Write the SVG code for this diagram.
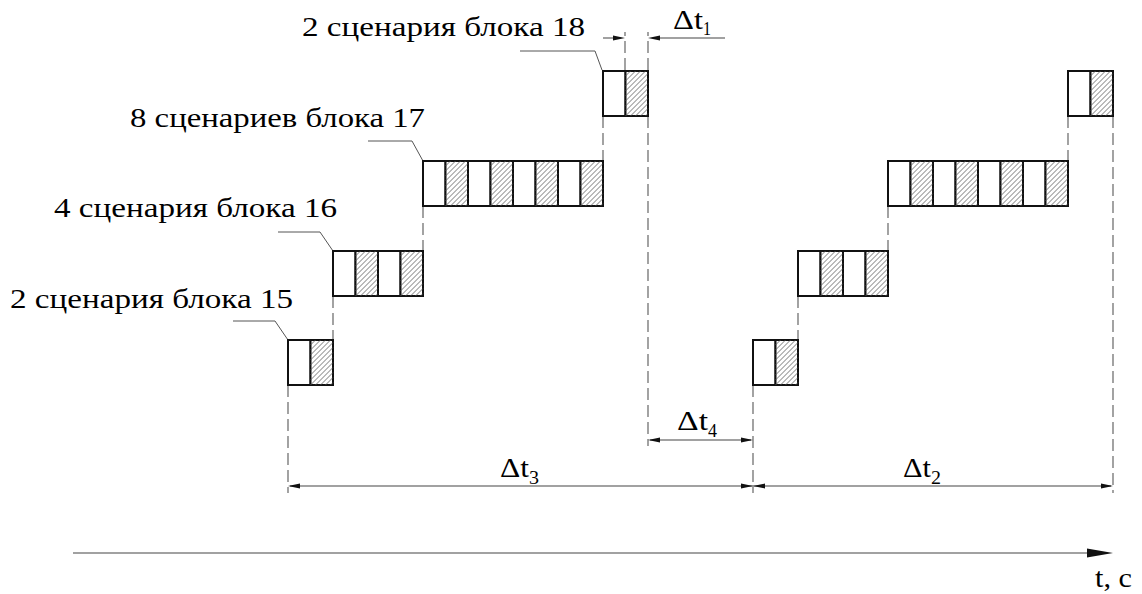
<svg xmlns="http://www.w3.org/2000/svg" width="1142" height="594" viewBox="0 0 1142 594">
<style>
.box{fill:#fff;stroke:#111;stroke-width:2}
.h{stroke:#555;stroke-width:0.8;fill:none}
.dash{stroke:#666;stroke-width:1.2;stroke-dasharray:12,5;fill:none}
.dim{stroke:#444;stroke-width:1.2;fill:none}
.lead{stroke:#555;stroke-width:1;fill:none}
.ah{fill:#111}
</style>
<rect width="1142" height="594" fill="#fff"/>
<text x="302" y="36" font-family="Liberation Serif" font-size="27" textLength="283" lengthAdjust="spacingAndGlyphs">2 сценария блока 18</text>
<text x="130" y="127" font-family="Liberation Serif" font-size="27" textLength="295" lengthAdjust="spacingAndGlyphs">8 сценариев блока 17</text>
<text x="54" y="217" font-family="Liberation Serif" font-size="27" textLength="283" lengthAdjust="spacingAndGlyphs">4 сценария блока 16</text>
<text x="10" y="308" font-family="Liberation Serif" font-size="27" textLength="283" lengthAdjust="spacingAndGlyphs">2 сценария блока 15</text>
<text x="673" y="29" font-family="Liberation Serif" font-size="27" textLength="30" lengthAdjust="spacingAndGlyphs">Δt</text>
<text x="703" y="35" font-family="Liberation Serif" font-size="19" textLength="8" lengthAdjust="spacingAndGlyphs">1</text>
<text x="677" y="430" font-family="Liberation Serif" font-size="27" textLength="31" lengthAdjust="spacingAndGlyphs">Δt</text>
<text x="708" y="437" font-family="Liberation Serif" font-size="19" textLength="9" lengthAdjust="spacingAndGlyphs">4</text>
<text x="500" y="477" font-family="Liberation Serif" font-size="27" textLength="29" lengthAdjust="spacingAndGlyphs">Δt</text>
<text x="529" y="484" font-family="Liberation Serif" font-size="19" textLength="10" lengthAdjust="spacingAndGlyphs">3</text>
<text x="903" y="477" font-family="Liberation Serif" font-size="27" textLength="28" lengthAdjust="spacingAndGlyphs">Δt</text>
<text x="931" y="484" font-family="Liberation Serif" font-size="19" textLength="10" lengthAdjust="spacingAndGlyphs">2</text>
<text x="1095" y="587" font-family="Liberation Serif" font-size="27" textLength="37" lengthAdjust="spacingAndGlyphs">t, c</text>

<g id="connectors">
<path class="dash" d="M288,385 V493 M333,296 V340 M423,206 V251 M603,116 V161 M648,116 V446 M625,70 V32 M648,70 V32"/>
<path class="dash" d="M753,385 V493 M798,296 V340 M888,206 V251 M1068,116 V161 M1113,116 V493"/>
<path class="lead" d="M520,51 H595 L602,70"/>
<path class="lead" d="M368,141 H412 L423,161"/>
<path class="lead" d="M278,232 H320 L333,251"/>
<path class="lead" d="M233,321 H275 L288,340"/>
<path class="dim" d="M603,38 H620 M653,38 H725"/>
<polygon class="ah" points="613,35.6 625,38 613,40.4"/>
<polygon class="ah" points="660,35.6 648,38 660,40.4"/>
<path class="dim" d="M650,440 H751"/>
<polygon class="ah" points="660,437.6 648,440 660,442.4"/>
<polygon class="ah" points="741,437.6 753,440 741,442.4"/>
<path class="dim" d="M290,486 H1111"/>
<polygon class="ah" points="300,483.6 288,486 300,488.4"/>
<polygon class="ah" points="741,483.6 753,486 741,488.4"/>
<polygon class="ah" points="765,483.6 753,486 765,488.4"/>
<polygon class="ah" points="1101,483.6 1113,486 1101,488.4"/>
<path class="dim" d="M73,553 H1092" stroke="#333"/>
<polygon class="ah" points="1087,548.5 1113,553 1087,557.5"/>
</g>

<g id="block15a">
<rect class="box" x="288" y="340" width="22.5" height="45"/>
<rect class="box" x="310.5" y="340" width="22.5" height="45"/>
<path class="h" transform="translate(310.5,340)" d="M0,5L5,0M0,10L10,0M0,15L15,0M0,20L20,0M0,25L22.5,2.5M0,30L22.5,7.5M0,35L22.5,12.5M0,40L22.5,17.5M0,45L22.5,22.5M5,45L22.5,27.5M10,45L22.5,32.5M15,45L22.5,37.5M20,45L22.5,42.5"/>
</g>
<g id="block16a">
<rect class="box" x="333" y="251" width="22.5" height="45"/>
<rect class="box" x="355.5" y="251" width="22.5" height="45"/>
<rect class="box" x="378" y="251" width="22.5" height="45"/>
<rect class="box" x="400.5" y="251" width="22.5" height="45"/>
<path class="h" transform="translate(355.5,251)" d="M0,5L5,0M0,10L10,0M0,15L15,0M0,20L20,0M0,25L22.5,2.5M0,30L22.5,7.5M0,35L22.5,12.5M0,40L22.5,17.5M0,45L22.5,22.5M5,45L22.5,27.5M10,45L22.5,32.5M15,45L22.5,37.5M20,45L22.5,42.5"/>
<path class="h" transform="translate(400.5,251)" d="M0,5L5,0M0,10L10,0M0,15L15,0M0,20L20,0M0,25L22.5,2.5M0,30L22.5,7.5M0,35L22.5,12.5M0,40L22.5,17.5M0,45L22.5,22.5M5,45L22.5,27.5M10,45L22.5,32.5M15,45L22.5,37.5M20,45L22.5,42.5"/>
</g>
<g id="block17a">
<rect class="box" x="423" y="161" width="22.5" height="45"/>
<rect class="box" x="445.5" y="161" width="22.5" height="45"/>
<rect class="box" x="468" y="161" width="22.5" height="45"/>
<rect class="box" x="490.5" y="161" width="22.5" height="45"/>
<rect class="box" x="513" y="161" width="22.5" height="45"/>
<rect class="box" x="535.5" y="161" width="22.5" height="45"/>
<rect class="box" x="558" y="161" width="22.5" height="45"/>
<rect class="box" x="580.5" y="161" width="22.5" height="45"/>
<path class="h" transform="translate(445.5,161)" d="M0,5L5,0M0,10L10,0M0,15L15,0M0,20L20,0M0,25L22.5,2.5M0,30L22.5,7.5M0,35L22.5,12.5M0,40L22.5,17.5M0,45L22.5,22.5M5,45L22.5,27.5M10,45L22.5,32.5M15,45L22.5,37.5M20,45L22.5,42.5"/>
<path class="h" transform="translate(490.5,161)" d="M0,5L5,0M0,10L10,0M0,15L15,0M0,20L20,0M0,25L22.5,2.5M0,30L22.5,7.5M0,35L22.5,12.5M0,40L22.5,17.5M0,45L22.5,22.5M5,45L22.5,27.5M10,45L22.5,32.5M15,45L22.5,37.5M20,45L22.5,42.5"/>
<path class="h" transform="translate(535.5,161)" d="M0,5L5,0M0,10L10,0M0,15L15,0M0,20L20,0M0,25L22.5,2.5M0,30L22.5,7.5M0,35L22.5,12.5M0,40L22.5,17.5M0,45L22.5,22.5M5,45L22.5,27.5M10,45L22.5,32.5M15,45L22.5,37.5M20,45L22.5,42.5"/>
<path class="h" transform="translate(580.5,161)" d="M0,5L5,0M0,10L10,0M0,15L15,0M0,20L20,0M0,25L22.5,2.5M0,30L22.5,7.5M0,35L22.5,12.5M0,40L22.5,17.5M0,45L22.5,22.5M5,45L22.5,27.5M10,45L22.5,32.5M15,45L22.5,37.5M20,45L22.5,42.5"/>
</g>
<g id="block18a">
<rect class="box" x="603" y="71" width="22.5" height="45"/>
<rect class="box" x="625.5" y="71" width="22.5" height="45"/>
<path class="h" transform="translate(625.5,71)" d="M0,5L5,0M0,10L10,0M0,15L15,0M0,20L20,0M0,25L22.5,2.5M0,30L22.5,7.5M0,35L22.5,12.5M0,40L22.5,17.5M0,45L22.5,22.5M5,45L22.5,27.5M10,45L22.5,32.5M15,45L22.5,37.5M20,45L22.5,42.5"/>
</g>

<g id="block15b">
<rect class="box" x="753" y="340" width="22.5" height="45"/>
<rect class="box" x="775.5" y="340" width="22.5" height="45"/>
<path class="h" transform="translate(775.5,340)" d="M0,5L5,0M0,10L10,0M0,15L15,0M0,20L20,0M0,25L22.5,2.5M0,30L22.5,7.5M0,35L22.5,12.5M0,40L22.5,17.5M0,45L22.5,22.5M5,45L22.5,27.5M10,45L22.5,32.5M15,45L22.5,37.5M20,45L22.5,42.5"/>
</g>
<g id="block16b">
<rect class="box" x="798" y="251" width="22.5" height="45"/>
<rect class="box" x="820.5" y="251" width="22.5" height="45"/>
<rect class="box" x="843" y="251" width="22.5" height="45"/>
<rect class="box" x="865.5" y="251" width="22.5" height="45"/>
<path class="h" transform="translate(820.5,251)" d="M0,5L5,0M0,10L10,0M0,15L15,0M0,20L20,0M0,25L22.5,2.5M0,30L22.5,7.5M0,35L22.5,12.5M0,40L22.5,17.5M0,45L22.5,22.5M5,45L22.5,27.5M10,45L22.5,32.5M15,45L22.5,37.5M20,45L22.5,42.5"/>
<path class="h" transform="translate(865.5,251)" d="M0,5L5,0M0,10L10,0M0,15L15,0M0,20L20,0M0,25L22.5,2.5M0,30L22.5,7.5M0,35L22.5,12.5M0,40L22.5,17.5M0,45L22.5,22.5M5,45L22.5,27.5M10,45L22.5,32.5M15,45L22.5,37.5M20,45L22.5,42.5"/>
</g>
<g id="block17b">
<rect class="box" x="888" y="161" width="22.5" height="45"/>
<rect class="box" x="910.5" y="161" width="22.5" height="45"/>
<rect class="box" x="933" y="161" width="22.5" height="45"/>
<rect class="box" x="955.5" y="161" width="22.5" height="45"/>
<rect class="box" x="978" y="161" width="22.5" height="45"/>
<rect class="box" x="1000.5" y="161" width="22.5" height="45"/>
<rect class="box" x="1023" y="161" width="22.5" height="45"/>
<rect class="box" x="1045.5" y="161" width="22.5" height="45"/>
<path class="h" transform="translate(910.5,161)" d="M0,5L5,0M0,10L10,0M0,15L15,0M0,20L20,0M0,25L22.5,2.5M0,30L22.5,7.5M0,35L22.5,12.5M0,40L22.5,17.5M0,45L22.5,22.5M5,45L22.5,27.5M10,45L22.5,32.5M15,45L22.5,37.5M20,45L22.5,42.5"/>
<path class="h" transform="translate(955.5,161)" d="M0,5L5,0M0,10L10,0M0,15L15,0M0,20L20,0M0,25L22.5,2.5M0,30L22.5,7.5M0,35L22.5,12.5M0,40L22.5,17.5M0,45L22.5,22.5M5,45L22.5,27.5M10,45L22.5,32.5M15,45L22.5,37.5M20,45L22.5,42.5"/>
<path class="h" transform="translate(1000.5,161)" d="M0,5L5,0M0,10L10,0M0,15L15,0M0,20L20,0M0,25L22.5,2.5M0,30L22.5,7.5M0,35L22.5,12.5M0,40L22.5,17.5M0,45L22.5,22.5M5,45L22.5,27.5M10,45L22.5,32.5M15,45L22.5,37.5M20,45L22.5,42.5"/>
<path class="h" transform="translate(1045.5,161)" d="M0,5L5,0M0,10L10,0M0,15L15,0M0,20L20,0M0,25L22.5,2.5M0,30L22.5,7.5M0,35L22.5,12.5M0,40L22.5,17.5M0,45L22.5,22.5M5,45L22.5,27.5M10,45L22.5,32.5M15,45L22.5,37.5M20,45L22.5,42.5"/>
</g>
<g id="block18b">
<rect class="box" x="1068" y="71" width="22.5" height="45"/>
<rect class="box" x="1090.5" y="71" width="22.5" height="45"/>
<path class="h" transform="translate(1090.5,71)" d="M0,5L5,0M0,10L10,0M0,15L15,0M0,20L20,0M0,25L22.5,2.5M0,30L22.5,7.5M0,35L22.5,12.5M0,40L22.5,17.5M0,45L22.5,22.5M5,45L22.5,27.5M10,45L22.5,32.5M15,45L22.5,37.5M20,45L22.5,42.5"/>
</g>
</svg>
